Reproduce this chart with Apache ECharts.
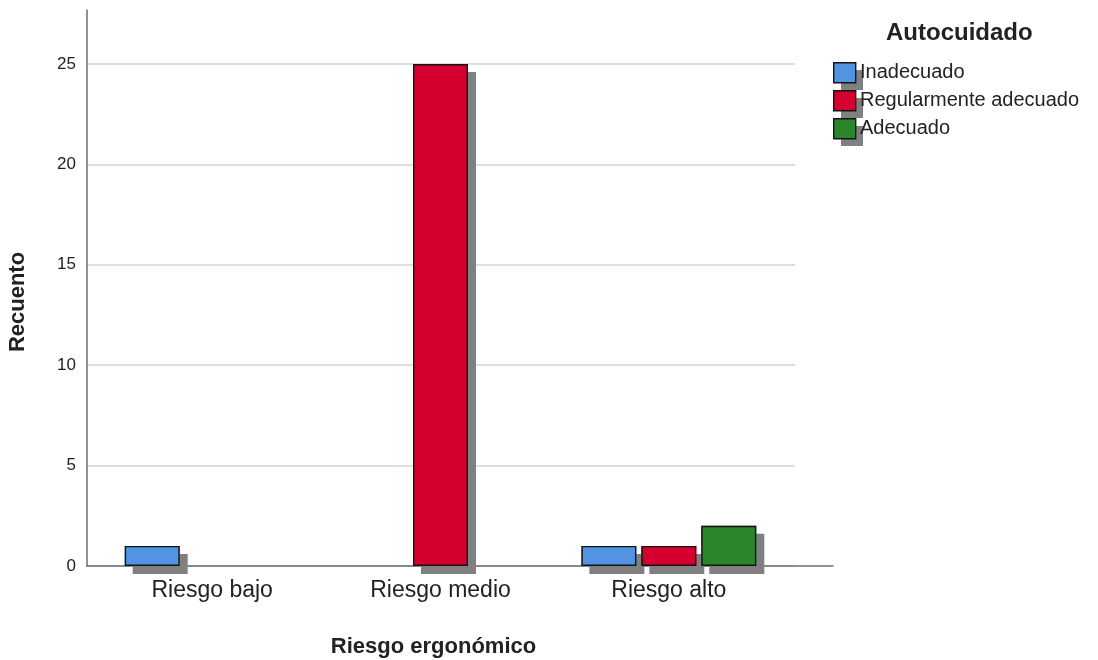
<!DOCTYPE html>
<html>
<head>
<meta charset="utf-8">
<title>Autocuidado por riesgo ergonómico</title>
<script src="https://cdn.jsdelivr.net/npm/echarts@6/dist/echarts.min.js"></script>
<style>
  html, body { margin: 0; padding: 0; background: #ffffff; }
  #chart { width: 1098px; height: 660px; }
</style>
</head>
<body>
<div id="chart"></div>
<script>
// Categories and counts
const categories = ['Riesgo bajo', 'Riesgo medio', 'Riesgo alto'];
const seriesNames = ['Inadecuado', 'Regularmente adecuado', 'Adecuado'];
const inadecuado = [1, 0, 1];
const regularmente = [0, 25, 1];
const adecuado = [0, 0, 2];
const yTicks = [0, 5, 10, 15, 20, 25];

const colors = ['#5294E2', '#D5002F', '#2A862A'];
const FONT = '"Liberation Sans", Arial, sans-serif';
const TXT = '#222222';
const BORDER = '#141414';
const BORDER_W = 1.4;
const SHADOW = {
  shadowColor: '#808080',
  shadowBlur: 0,
  shadowOffsetX: 8,
  shadowOffsetY: 8
};

const valueSets = [inadecuado, regularmente, adecuado];
const yMax = yTicks[yTicks.length - 1];
const yStep = yTicks[1] - yTicks[0];
const outlineNames = seriesNames.map(n => 'borde ' + n);

const chart = echarts.init(document.getElementById('chart'), null, { renderer: 'canvas' });

// Grid 0: gridlines and tick labels; Grid 1: axis frame; Grid 2: bars
const grids = [
  { left: 87, right: 303, top: 64, bottom: 94, outerBoundsMode: 'none' },
  { left: 87, right: 265, top: 10, bottom: 94, outerBoundsMode: 'none' },
  { left: 98, right: 315, top: 64, bottom: 94, outerBoundsMode: 'none' }
];

const barBase = {
  type: 'bar',
  barWidth: 55,
  barGap: '9%',
  emphasis: { disabled: true },
  animation: false
};

// Filled bars casting the drop shadow
const fillSeries = valueSets.map((vals, i) => Object.assign({}, barBase, {
  name: seriesNames[i],
  xAxisIndex: 2,
  yAxisIndex: 2,
  z: 2,
  data: vals.map(v => (v === 0 ? '-' : v)),
  itemStyle: Object.assign({ color: colors[i], borderWidth: 0 }, SHADOW)
}));

// Outlines drawn on top of the fills, without shadow
const outlineSeries = valueSets.map((vals, i) => Object.assign({}, barBase, {
  name: outlineNames[i],
  xAxisIndex: 3,
  yAxisIndex: 3,
  z: 3,
  data: vals.map(v => (v === 0 ? '-' : v)),
  itemStyle: { color: 'rgba(0,0,0,0)', borderColor: BORDER, borderWidth: BORDER_W }
}));

const legendBase = {
  orient: 'vertical',
  left: 833,
  top: 62,
  padding: 0,
  itemWidth: 22,
  itemHeight: 20,
  icon: 'rect',
  selectedMode: false
};

chart.setOption({
  backgroundColor: '#ffffff',
  animation: false,
  title: {
    text: 'Autocuidado',
    left: 886,
    top: 21,
    padding: 0,
    textStyle: { fontFamily: FONT, fontSize: 24, fontWeight: 'bold', color: TXT }
  },
  legend: [
    Object.assign({}, legendBase, {
      data: seriesNames,
      itemGap: 8,
      textStyle: { fontFamily: FONT, fontSize: 20, lineHeight: 20, color: TXT },
      itemStyle: Object.assign({ borderWidth: 0 }, SHADOW)
    }),
    Object.assign({}, legendBase, {
      data: outlineNames,
      // the stroked icon is taller by its line width, so the gap is reduced to keep rows aligned
      itemGap: 8 - BORDER_W,
      formatter: () => '',
      itemStyle: { color: 'rgba(0,0,0,0)', borderColor: BORDER, borderWidth: BORDER_W }
    })
  ],
  grid: grids,
  xAxis: [
    { gridIndex: 0, type: 'category', data: categories, show: false },
    {
      gridIndex: 1, type: 'value', min: 0, max: 1,
      axisLine: { show: true, lineStyle: { color: '#6e6e6e', width: 1.5 } },
      axisTick: { show: false }, axisLabel: { show: false }, splitLine: { show: false }
    },
    {
      gridIndex: 2, type: 'category', data: categories,
      axisLine: { show: false }, axisTick: { show: false },
      axisLabel: { margin: 13, fontFamily: FONT, fontSize: 23, color: TXT },
      name: 'Riesgo ergonómico',
      nameLocation: 'middle',
      nameGap: 70,
      nameTextStyle: { fontFamily: FONT, fontSize: 22, fontWeight: 'bold', color: TXT, padding: [0, 14, 0, 0] }
    },
    { gridIndex: 2, type: 'category', data: categories, show: false }
  ],
  yAxis: [
    {
      gridIndex: 0, type: 'value', min: 0, max: yMax, interval: yStep,
      axisLine: { show: false }, axisTick: { show: false },
      axisLabel: { margin: 11, fontFamily: FONT, fontSize: 17, color: TXT },
      splitLine: { show: true, lineStyle: { color: '#d4d4d4', width: 1.6 } }
    },
    {
      gridIndex: 1, type: 'value', min: 0, max: 1,
      axisLine: { show: true, lineStyle: { color: '#6e6e6e', width: 1.5 } },
      axisTick: { show: false }, axisLabel: { show: false }, splitLine: { show: false },
      name: 'Recuento',
      nameLocation: 'middle',
      nameGap: 58,
      nameTextStyle: { fontFamily: FONT, fontSize: 22, fontWeight: 'bold', color: TXT, padding: [0, 28, 0, 0] }
    },
    { gridIndex: 2, type: 'value', min: 0, max: yMax, show: false },
    { gridIndex: 2, type: 'value', min: 0, max: yMax, show: false }
  ],
  series: fillSeries.concat(outlineSeries)
});
</script>
</body>
</html>
